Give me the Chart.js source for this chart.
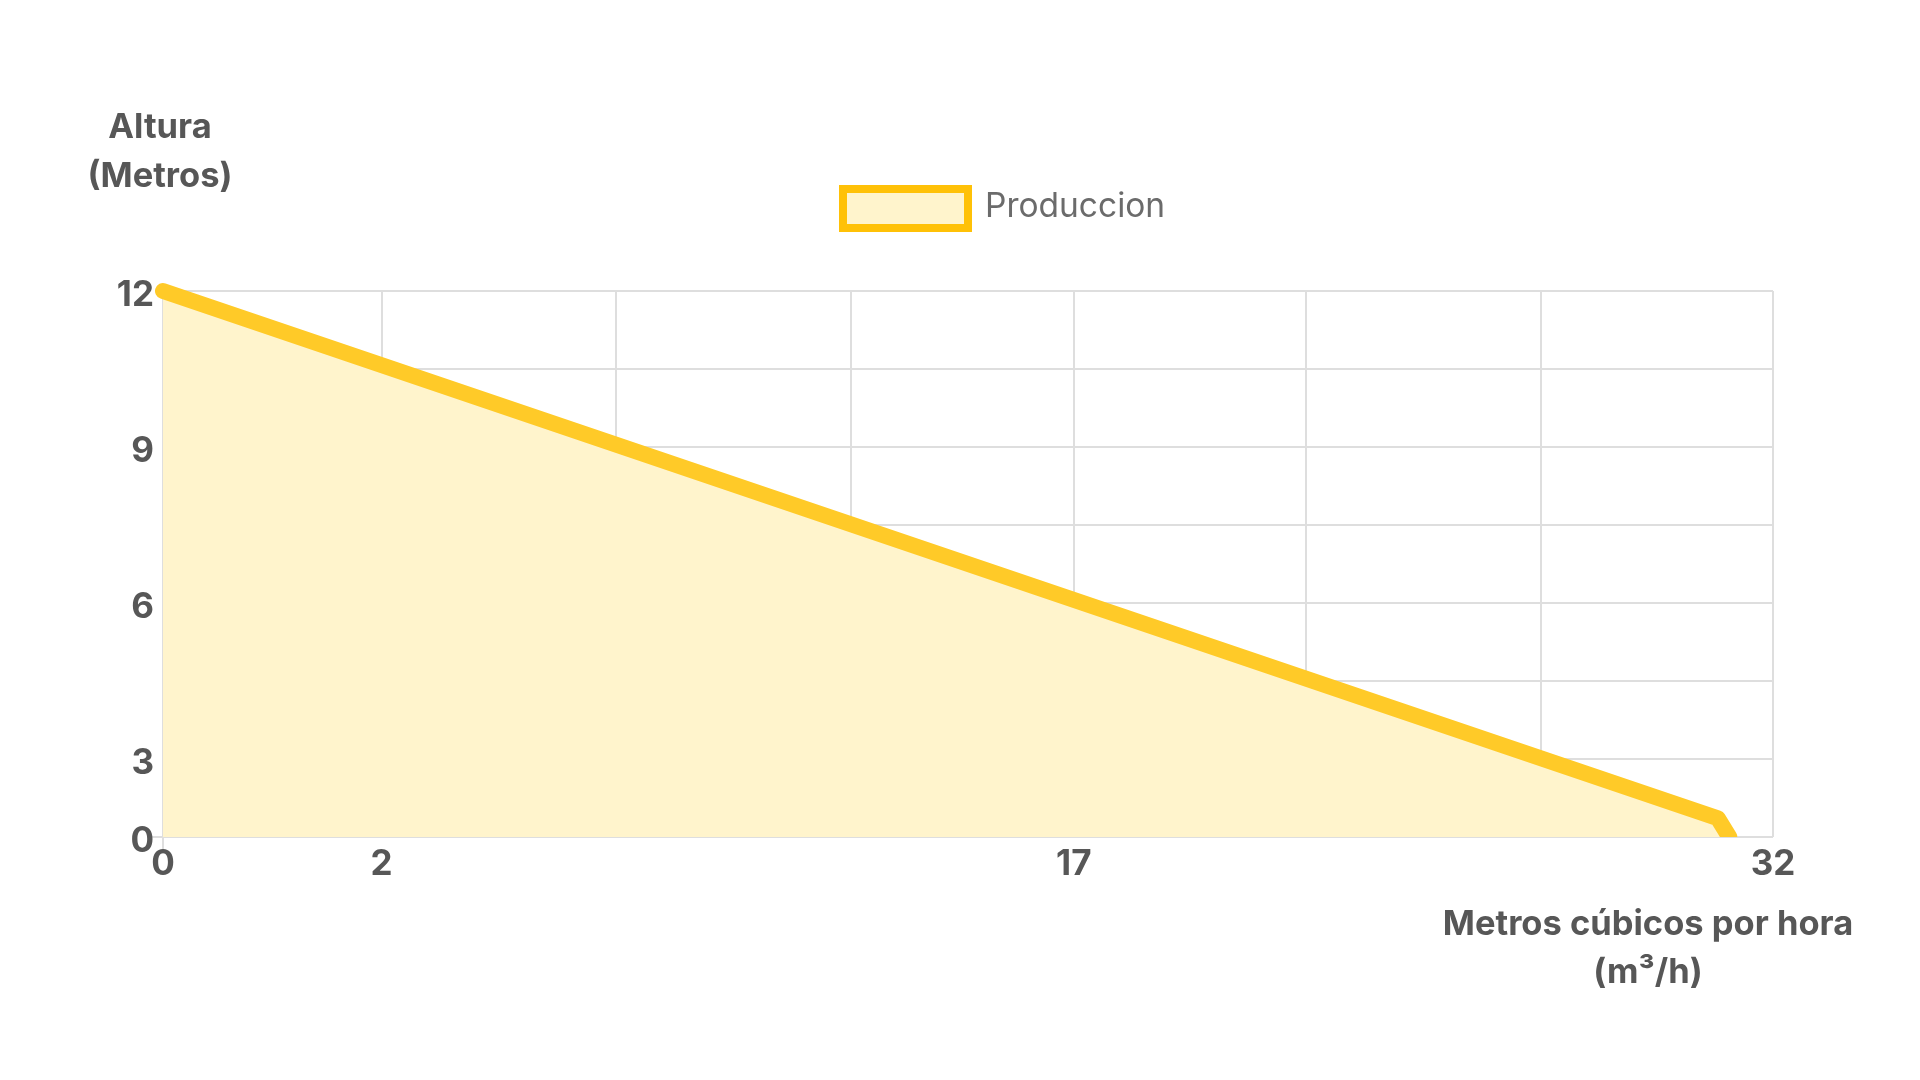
<!DOCTYPE html>
<html>
<head>
<meta charset="utf-8">
<script src="https://cdn.jsdelivr.net/npm/chart.js@4"></script>
<style>
  html, body { margin: 0; padding: 0; background: #ffffff; }
  #wrap { position: relative; width: 1920px; height: 1080px; }
</style>
</head>
<body>
<div id="wrap"><canvas id="c" width="1920" height="1080"></canvas></div>
<script>
// ---- Data (positions in grid steps) ----
const seriesLabel = 'Produccion';
const caudalPos = [0, 1, 2, 3, 4, 5, 6, 6.76, 6.81];  // x
const alturaPos = [7, 6, 5, 4, 3, 2, 1, 0.24, 0];     // y
// Grid / tick values and their labels
const xTickValues = [0, 0.95, 1.97, 2.99, 3.96, 4.97, 5.99, 7];
const xTickLabels = ['0', '2', '', '', '17', '', '', '32'];
const yTickValues = [0, 1, 2, 3, 4, 5, 6, 7];
const yTickLabels = ['0', '3', '', '6', '', '9', '', '12'];
// Axis titles
const yTitleLines = ['Altura', '(Metros)'];
const xTitleLines = ['Metros cúbicos por hora', '(m³/h)'];

const TEXT = '#575757';
const GRID = '#dedede';
const LINE = 'rgb(255, 202, 40)';
const FILL = 'rgb(255, 244, 204)';
const LEGEND_BORDER = 'rgb(255, 193, 7)';
const FONT = 'Inter, "Liberation Sans", Arial, sans-serif';

const points = caudalPos.map((x, i) => ({ x: x, y: alturaPos[i] }));

const decorPlugin = {
  id: 'decor',
  afterDraw(chart) {
    const ctx = chart.ctx;
    ctx.save();
    ctx.fillStyle = TEXT;
    ctx.textAlign = 'center';
    ctx.textBaseline = 'middle';
    ctx.font = '700 34.5px ' + FONT;
    ctx.fillText(yTitleLines[0], 160, 128);
    ctx.fillText(yTitleLines[1], 160, 177);
    ctx.fillText(xTitleLines[0], 1648, 925);
    ctx.fillText(xTitleLines[1], 1648, 973);

    // legend
    const ds = chart.data.datasets[0];
    ctx.fillStyle = FILL;
    ctx.fillRect(843, 189, 125, 39);
    ctx.lineWidth = 8;
    ctx.strokeStyle = LEGEND_BORDER;
    ctx.strokeRect(843, 189, 125, 39);
    ctx.fillStyle = '#6b6b6b';
    ctx.textAlign = 'left';
    ctx.font = '400 33.5px ' + FONT;
    ctx.fillText(ds.label, 985, 207);
    ctx.restore();
  }
};

new Chart(document.getElementById('c'), {
  type: 'line',
  data: {
    datasets: [{
      label: seriesLabel,
      data: points,
      borderColor: LINE,
      backgroundColor: FILL,
      borderWidth: 16,
      borderCapStyle: 'round',
      borderJoinStyle: 'round',
      fill: 'origin',
      tension: 0,
      pointRadius: 0,
      pointHoverRadius: 0,
      clip: { left: 20, top: 20, right: 20, bottom: 0 }
    }]
  },
  options: {
    responsive: false,
    animation: false,
    events: [],
    layout: { padding: { left: 0, right: 147, top: 291, bottom: 0 } },
    plugins: {
      legend: { display: false },
      title: { display: false },
      tooltip: { enabled: false }
    },
    scales: {
      x: {
        type: 'linear',
        min: 0,
        max: 7,
        afterFit(scale) { scale.height = 243; },
        afterBuildTicks(scale) {
          scale.ticks = xTickValues.map(v => ({ value: v }));
        },
        border: { display: false },
        grid: {
          color: GRID,
          lineWidth: 2,
          tickLength: 12,
          tickColor: c => (c.index === 0 ? GRID : 'rgba(0,0,0,0)')
        },
        ticks: {
          autoSkip: false,
          maxRotation: 0,
          padding: -6,
          color: TEXT,
          font: { family: FONT, size: 35, weight: '700' },
          callback: (v, i) => xTickLabels[i]
        }
      },
      y: {
        type: 'linear',
        min: 0,
        max: 7,
        afterFit(scale) { scale.width = 163; },
        afterBuildTicks(scale) {
          scale.ticks = yTickValues.map(v => ({ value: v }));
        },
        border: { display: false },
        grid: {
          color: GRID,
          lineWidth: 2,
          tickLength: 12,
          tickColor: c => (c.index === 0 ? GRID : 'rgba(0,0,0,0)')
        },
        ticks: {
          autoSkip: false,
          padding: -3,
          labelOffset: 4,
          color: TEXT,
          font: { family: FONT, size: 35, weight: '700' },
          callback: (v, i) => yTickLabels[i]
        }
      }
    }
  },
  plugins: [decorPlugin]
});
</script>
</body>
</html>
